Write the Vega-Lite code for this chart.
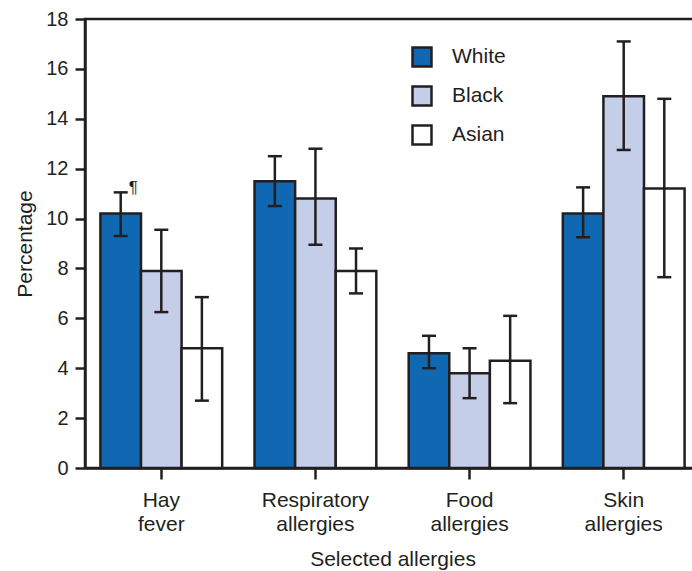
{
  "$schema": "https://vega.github.io/schema/vega-lite/v6.json",
  "width": 615,
  "height": 449,
  "autosize": {"type": "none"},
  "padding": {"left": 85, "top": 19, "right": 0, "bottom": 103},
  "background": "white",
  "data": {
    "values": [
      {"allergy": "Hay fever", "race": "White", "value": 10.2, "lower": 9.3, "upper": 11.05, "note": "¶"},
      {"allergy": "Hay fever", "race": "Black", "value": 7.9, "lower": 6.25, "upper": 9.55, "note": ""},
      {"allergy": "Hay fever", "race": "Asian", "value": 4.8, "lower": 2.7, "upper": 6.85, "note": ""},
      {"allergy": "Respiratory allergies", "race": "White", "value": 11.5, "lower": 10.5, "upper": 12.5, "note": ""},
      {"allergy": "Respiratory allergies", "race": "Black", "value": 10.8, "lower": 8.95, "upper": 12.8, "note": ""},
      {"allergy": "Respiratory allergies", "race": "Asian", "value": 7.9, "lower": 7.0, "upper": 8.8, "note": ""},
      {"allergy": "Food allergies", "race": "White", "value": 4.6, "lower": 4.0, "upper": 5.3, "note": ""},
      {"allergy": "Food allergies", "race": "Black", "value": 3.8, "lower": 2.8, "upper": 4.8, "note": ""},
      {"allergy": "Food allergies", "race": "Asian", "value": 4.3, "lower": 2.6, "upper": 6.1, "note": ""},
      {"allergy": "Skin allergies", "race": "White", "value": 10.2, "lower": 9.25, "upper": 11.25, "note": ""},
      {"allergy": "Skin allergies", "race": "Black", "value": 14.9, "lower": 12.75, "upper": 17.1, "note": ""},
      {"allergy": "Skin allergies", "race": "Asian", "value": 11.2, "lower": 7.65, "upper": 14.8, "note": ""}
    ]
  },
  "encoding": {
    "x": {
      "field": "allergy",
      "type": "nominal",
      "sort": ["Hay fever", "Respiratory allergies", "Food allergies", "Skin allergies"],
      "scale": {"paddingInner": 0.21, "paddingOuter": 0.1},
      "axis": {
        "title": "Selected allergies",
        "labelAngle": 0,
        "labelExpr": "split(datum.label, ' ')",
        "labelLineHeight": 24,
        "labelFontSize": 21,
        "tickSize": 11,
        "labelPadding": 10,
        "titlePadding": 14
      }
    },
    "xOffset": {
      "field": "race",
      "type": "nominal",
      "sort": ["White", "Black", "Asian"],
      "scale": {"paddingInner": 0, "paddingOuter": 0}
    }
  },
  "layer": [
    {
      "mark": {"type": "bar", "stroke": "#231f20", "strokeWidth": 2.5},
      "encoding": {
        "y": {
          "field": "value",
          "type": "quantitative",
          "scale": {"domain": [0, 18], "nice": false},
          "axis": {
            "title": "Percentage",
            "values": [0, 2, 4, 6, 8, 10, 12, 14, 16, 18],
            "grid": false,
            "tickSize": 10,
            "labelPadding": 7,
            "labelFontSize": 20,
            "titlePadding": 10
          }
        },
        "fill": {
          "field": "race",
          "type": "nominal",
          "sort": ["White", "Black", "Asian"],
          "scale": {"domain": ["White", "Black", "Asian"], "range": ["#0f68b1", "#c5cee8", "#ffffff"]},
          "legend": {
            "title": null,
            "orient": "none",
            "legendX": 326,
            "legendY": 27,
            "padding": 0,
            "symbolType": "square",
            "symbolSize": 361,
            "symbolStrokeColor": "#231f20",
            "symbolStrokeWidth": 2.5,
            "labelFontSize": 21,
            "labelOffset": 19,
            "rowPadding": 9,
            "labelColor": "#231f20",
            "labelFont": "Liberation Sans"
          }
        }
      }
    },
    {
      "mark": {"type": "rule", "stroke": "#231f20", "strokeWidth": 2.5},
      "encoding": {
        "y": {"field": "upper", "type": "quantitative"},
        "y2": {"field": "lower"}
      }
    },
    {
      "mark": {"type": "tick", "color": "#231f20", "size": 14, "thickness": 2.5, "opacity": 1},
      "encoding": {
        "y": {"field": "upper", "type": "quantitative"}
      }
    },
    {
      "mark": {"type": "tick", "color": "#231f20", "size": 14, "thickness": 2.5, "opacity": 1},
      "encoding": {
        "y": {"field": "lower", "type": "quantitative"}
      }
    },
    {
      "mark": {"type": "text", "align": "left", "baseline": "alphabetic", "dx": 8, "dy": 1, "fontSize": 17, "font": "Liberation Sans", "fill": "#231f20"},
      "encoding": {
        "y": {"field": "upper", "type": "quantitative"},
        "text": {"field": "note"}
      }
    }
  ],
  "config": {
    "view": {"stroke": "#231f20", "strokeWidth": 2.5},
    "font": "Liberation Sans",
    "axis": {
      "labelFont": "Liberation Sans",
      "titleFont": "Liberation Sans",
      "labelColor": "#231f20",
      "titleColor": "#231f20",
      "titleFontSize": 21,
      "titleFontWeight": "normal",
      "domainColor": "#231f20",
      "domainWidth": 2.5,
      "tickColor": "#231f20",
      "tickWidth": 2.5
    }
  }
}
